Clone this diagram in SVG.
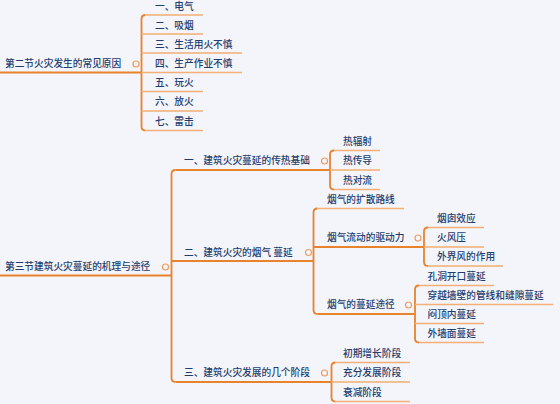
<svg xmlns="http://www.w3.org/2000/svg" width="560" height="404" viewBox="0 0 560 404">
<style>
text{font-family:"Noto Sans CJK SC","Noto Sans",sans-serif;font-size:9.7px;font-weight:500;fill:#1f3d6e}
.s{fill:none;stroke:#e8832c;stroke-width:1.8}
.l{fill:none;stroke:#f4ae76;stroke-width:1.6}
.t{fill:#f6f7fb;stroke:#ef9b5c;stroke-width:1.2}
</style>
<rect width="560" height="404" fill="#f3f5fa"/>
<g id="connectors">
<path class="s" d="M0 72.5H141.5"/>
<path class="s" d="M145.5 15Q141.5 15 141.5 19V126.5Q141.5 130.5 145.5 130.5"/>
<path class="l" d="M145.5 15H203M141.5 34H203M141.5 53H242M141.5 72.5H242M141.5 91.5H203M141.5 111H203M145.5 130.5H203"/>
<path class="s" d="M0 275.5H171.5"/>
<path class="s" d="M175.5 170Q171.5 170 171.5 174V378Q171.5 382 175.5 382"/>
<path class="s" d="M175.5 170H330M171.5 261H313.5M175.5 382H331.5"/>
<path class="s" d="M334 150.5Q330 150.5 330 154.5V185.5Q330 189.5 334 189.5"/>
<path class="l" d="M334 150.5H380M330 170H380M334 189.5H380"/>
<path class="s" d="M317.5 208.5Q313.5 208.5 313.5 212.5V310Q313.5 314 317.5 314"/>
<path class="l" d="M317.5 208.5H404"/>
<path class="s" d="M313.5 247H424M317.5 314H415"/>
<path class="s" d="M428 227.5Q424 227.5 424 231.5V262Q424 266 428 266"/>
<path class="l" d="M428 227.5H484M424 247H484M428 266H503"/>
<path class="s" d="M419 285.5Q415 285.5 415 289.5V338.5Q415 342.5 419 342.5"/>
<path class="l" d="M419 285.5H494M415 304.5H553M415 323.5H484M419 342.5H484"/>
<path class="s" d="M335.5 362.5Q331.5 362.5 331.5 366.5V397.5Q331.5 401.5 335.5 401.5"/>
<path class="l" d="M335.5 362.5H410M331.5 382H410M335.5 401.5H410"/>
</g>
<g id="root1"><text x="5" y="66.5">第二节火灾发生的常见原因</text><circle class="t" cx="136" cy="64" r="3"/></g>
<g id="n1-1"><text x="155" y="9.8">一、电气</text></g>
<g id="n1-2"><text x="155" y="28.5">二、吸烟</text></g>
<g id="n1-3"><text x="155" y="47.5">三、生活用火不慎</text></g>
<g id="n1-4"><text x="155" y="66.5">四、生产作业不慎</text></g>
<g id="n1-5"><text x="155" y="85.5">五、玩火</text></g>
<g id="n1-6"><text x="155" y="105">六、放火</text></g>
<g id="n1-7"><text x="155" y="124.5">七、雷击</text></g>
<g id="root2"><text x="5" y="270">第三节建筑火灾蔓延的机理与途径</text><circle class="t" cx="165.5" cy="267" r="3"/></g>
<g id="a"><text x="184" y="164">一、建筑火灾蔓延的传热基础</text><circle class="t" cx="324.5" cy="161" r="3"/></g>
<g id="a1"><text x="343" y="144.5">热辐射</text></g>
<g id="a2"><text x="343" y="164">热传导</text></g>
<g id="a3"><text x="343" y="183.5">热对流</text></g>
<g id="b"><text x="184" y="255.5">二、建筑火灾的烟气 蔓延</text><circle class="t" cx="308.5" cy="252.5" r="3"/></g>
<g id="b1"><text x="327" y="202.5">烟气的扩散路线</text></g>
<g id="b2"><text x="327" y="241">烟气流动的驱动力</text><circle class="t" cx="418" cy="238" r="3"/></g>
<g id="b2-1"><text x="437" y="221.5">烟囱效应</text></g>
<g id="b2-2"><text x="437" y="241">火风压</text></g>
<g id="b2-3"><text x="437" y="260">外界风的作用</text></g>
<g id="b3"><text x="327" y="308">烟气的蔓延途径</text><circle class="t" cx="408.5" cy="305" r="3"/></g>
<g id="b3-1"><text x="427.5" y="279.5">孔洞开口蔓延</text></g>
<g id="b3-2"><text x="427.5" y="298.5">穿越墙壁的管线和缝隙蔓延</text></g>
<g id="b3-3"><text x="427.5" y="317.5">闷顶内蔓延</text></g>
<g id="b3-4"><text x="427.5" y="336.5">外墙面蔓延</text></g>
<g id="c"><text x="184" y="376">三、建筑火灾发展的几个阶段</text><circle class="t" cx="324.5" cy="373" r="3"/></g>
<g id="c1"><text x="343" y="356.5">初期增长阶段</text></g>
<g id="c2"><text x="343" y="376">充分发展阶段</text></g>
<g id="c3"><text x="343" y="395.5">衰减阶段</text></g>
</svg>
